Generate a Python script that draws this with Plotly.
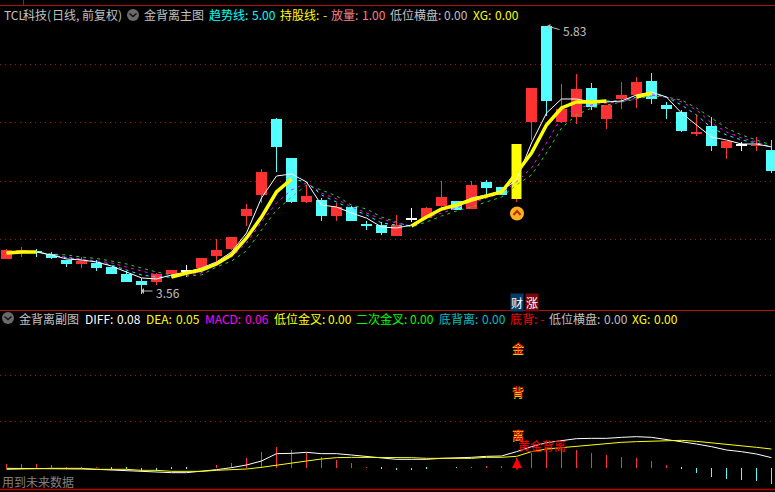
import plotly.graph_objects as go

W, H = 775, 492
RED, CYAN = "#ff3232", "#54ffff"
N = 52
x = list(range(N))
DOJI = (12, 27, 49)

# Daily prices
opens = [3.792,3.844,3.862,3.836,3.783,3.748,3.757,3.722,3.660,3.599,3.590,3.660,3.678,3.713,3.818,3.879,4.168,4.352,5.017,4.676,4.291,4.308,4.168,4.247,4.098,4.089,3.993,4.133,4.150,4.256,4.299,4.229,4.466,4.422,4.317,4.990,5.830,4.990,5.034,5.288,5.017,5.192,5.227,5.349,5.139,5.078,4.886,4.956,4.763,4.789,4.781,4.746]
closes= [3.871,3.871,3.844,3.801,3.748,3.774,3.713,3.660,3.590,3.564,3.660,3.695,3.687,3.801,3.871,3.984,4.229,4.553,4.772,4.291,4.343,4.168,4.247,4.124,4.080,4.019,4.089,4.142,4.238,4.334,4.220,4.439,4.413,4.352,4.798,5.288,5.174,5.104,5.279,5.122,5.139,5.227,5.341,5.192,5.104,4.912,4.903,4.781,4.824,4.798,4.789,4.562]
highs = [3.879,3.897,3.879,3.853,3.783,3.809,3.783,3.722,3.687,3.626,3.669,3.695,3.739,3.801,3.967,3.984,4.273,4.579,5.026,4.676,4.439,4.326,4.282,4.256,4.124,4.116,4.177,4.238,4.247,4.474,4.299,4.474,4.483,4.422,4.798,5.288,5.830,5.323,5.410,5.332,5.139,5.341,5.384,5.419,5.166,5.096,5.052,5.034,4.824,4.816,4.859,4.833]
lows  = [3.792,3.809,3.809,3.792,3.722,3.713,3.687,3.660,3.590,3.564,3.560,3.626,3.634,3.669,3.766,3.871,4.081,4.282,4.553,4.282,4.282,4.124,4.124,4.124,4.046,4.002,3.993,4.116,4.150,4.247,4.220,4.229,4.360,4.352,4.291,4.833,5.043,4.982,4.973,5.096,4.929,5.104,5.113,5.148,5.017,4.903,4.868,4.737,4.667,4.737,4.737,4.544]
spark_top, spark_bottom = 4.798, 4.317   # highlighted signal day (index 34)
SPARK = 34

# Trend line, fast line and the two slower averages
trend = [3.844,3.853,3.853,3.827,3.801,3.783,3.766,3.739,3.695,3.652,3.634,3.634,3.669,3.695,3.748,3.827,3.976,4.159,4.378,4.492,4.466,4.352,4.291,4.229,4.177,4.107,4.089,4.080,4.159,4.229,4.264,4.308,4.343,4.378,4.544,4.719,4.964,5.113,5.166,5.166,5.174,5.174,5.209,5.244,5.209,5.139,5.052,4.938,4.877,4.833,4.807,4.772]
fast  = [3.844,3.853,3.853,3.827,3.792,3.783,3.766,3.730,3.678,3.626,3.617,3.652,3.678,3.713,3.766,3.853,4.019,4.326,4.518,4.536,4.466,4.264,4.247,4.194,4.150,4.072,4.063,4.089,4.168,4.238,4.264,4.326,4.352,4.387,4.483,4.807,5.069,5.192,5.192,5.166,5.166,5.174,5.227,5.253,5.209,5.069,4.964,4.859,4.833,4.798,4.798,4.772]
slow1 = [3.853,3.853,3.853,3.827,3.809,3.796,3.774,3.757,3.722,3.687,3.652,3.634,3.652,3.669,3.757,3.809,3.932,4.116,4.282,4.396,4.457,4.369,4.317,4.247,4.194,4.142,4.107,4.080,4.150,4.194,4.238,4.282,4.326,4.369,4.466,4.588,4.807,5.034,5.113,5.139,5.157,5.166,5.200,5.227,5.209,5.166,5.096,4.982,4.903,4.851,4.816,4.772]
slow2 = [3.853,3.853,3.853,3.836,3.827,3.809,3.796,3.774,3.748,3.713,3.678,3.652,3.643,3.652,3.722,3.774,3.862,4.046,4.220,4.334,4.439,4.396,4.343,4.264,4.229,4.159,4.116,4.072,4.116,4.168,4.212,4.247,4.291,4.334,4.439,4.527,4.719,4.938,5.052,5.113,5.139,5.166,5.192,5.218,5.209,5.183,5.113,5.026,4.938,4.877,4.833,4.789]
trend_up = [(0,2),(11,19),(27,40),(42,43)]
trend_down = [(2,11),(19,27),(40,42),(43,51)]

# MACD panel
diff = [-.004,-.004,-.006,-.008,-.008,-.008,-.010,-.014,-.020,-.026,-.028,-.030,-.030,-.022,-.012,0,.016,.040,.084,.086,.092,.084,.084,.076,.066,.056,.050,.050,.050,.056,.058,.062,.068,.070,.096,.126,.150,.164,.174,.176,.176,.182,.186,.182,.170,.156,.142,.126,.106,.096,.082,.060]
dea  = [-.010,-.010,-.006,-.004,-.004,-.004,-.010,-.010,-.010,-.016,-.016,-.022,-.022,-.022,-.016,-.014,-.008,.002,.016,.026,.040,.052,.060,.062,.062,.062,.060,.060,.056,.056,.056,.056,.062,.062,.068,.096,.112,.120,.126,.136,.146,.152,.156,.160,.164,.164,.158,.150,.140,.132,.122,.112]
macd = [.022,.022,.022,.016,.004,.004,.002,-.010,-.010,-.018,-.018,-.010,-.010,0,.016,.028,.056,.094,.124,.106,.090,.062,.046,.028,.004,-.008,-.016,-.014,-.008,0,-.002,.004,.010,.010,.060,.086,.106,.120,.106,.088,.076,.064,.058,.040,.016,-.008,-.032,-.056,-.068,-.074,-.080,-.098]

price_grid = [5.494, 4.982, 4.470, 3.963]
macd_grid = [0.554, 0.278]

# Header texts: (left pixel, text, colour)
main_header = [(3,"TCL","#c0c0c0"),(22,"科技","#c0c0c0"),(46,"(","#c0c0c0"),(51,"日线","#c0c0c0"),(75,",","#c0c0c0"),(81,"前复权","#c0c0c0"),(117,")","#c0c0c0"),
               (143,"金背离主图","#c0c0c0"),(208,"趋势线:","#00ffff"),(251,"5.00","#00ffff"),
               (279,"持股线:","#ffff00"),(322,"-","#ffff00"),(330,"放量:","#ff8080"),(361,"1.00","#ff8080"),
               (389,"低位横盘:","#c0c0c0"),(443,"0.00","#c0c0c0"),(472,"XG:","#ffff00"),(494,"0.00","#ffff00")]
sub_header = [(18,"金背离副图","#c0c0c0"),(84,"DIFF:","#ffffff"),(116,"0.08","#ffffff"),(145,"DEA:","#ffff00"),(175,"0.05","#ffff00"),
              (204,"MACD:","#ff00ff"),(244,"0.06","#ff00ff"),(273,"低位金叉:","#ffff00"),(327,"0.00","#ffff00"),
              (355,"二次金叉:","#00ff00"),(409,"0.00","#00ff00"),(438,"底背离:","#00c0c0"),(481,"0.00","#00c0c0"),
              (509,"底背:","#ff0000"),(539,"-","#ff0000"),(548,"低位横盘:","#c0c0c0"),(603,"0.00","#c0c0c0"),
              (631,"XG:","#ffff00"),(653,"0.00","#ffff00")]

FONT = "Noto Sans CJK SC"
XR = [-6.5/15, (W-6.5)/15]
fig = go.Figure()
PX = 1/15

def candle_color(i):
    if i in DOJI:
        return "#ffffff"
    return RED if closes[i] > opens[i] else CYAN

colors = [candle_color(i) for i in x]
fig.add_bar(x=x, base=lows, y=[h-l for h, l in zip(highs, lows)], width=PX, marker=dict(color=colors, line_width=0), xaxis="x", yaxis="y")
fig.add_bar(x=x, base=[min(o, c) for o, c in zip(opens, closes)], y=[abs(o-c) for o, c in zip(opens, closes)], width=11*PX,
            marker=dict(color=colors, line_width=0), xaxis="x", yaxis="y")

def seg(vals, a, b):
    return x[a:b+1], vals[a:b+1]

fig.add_scatter(x=x, y=slow2, mode="lines", line=dict(color="#33cc33", width=1, dash="3px,4px"), xaxis="x", yaxis="y")
fig.add_scatter(x=x, y=slow1, mode="lines", line=dict(color="#ff00ff", width=1, dash="3px,4px"), xaxis="x", yaxis="y")
for a, b in trend_down:
    xs, ys = seg(trend, a, b)
    fig.add_scatter(x=xs, y=ys, mode="lines", line=dict(color="#00ffff", width=1, dash="3px,4px"), xaxis="x", yaxis="y")
fig.add_scatter(x=x, y=fast, mode="lines", line=dict(color="#ffffff", width=1), xaxis="x", yaxis="y")
fig.add_bar(x=[SPARK], base=[spark_bottom], y=[spark_top-spark_bottom], width=9*PX, marker=dict(color="#ffff00", line_width=0), xaxis="x", yaxis="y")
for a, b in trend_up:
    xs, ys = seg(trend, a, b)
    fig.add_scatter(x=xs, y=ys, mode="lines", line=dict(color="#ffff00", width=3.5), xaxis="x", yaxis="y")

# MACD panel
fig.add_bar(x=x, y=macd, width=PX, marker=dict(color=[RED if v >= 0 else CYAN for v in macd], line_width=0), xaxis="x2", yaxis="y2")
fig.add_scatter(x=x, y=diff, mode="lines", line=dict(color="#ffffff", width=1), xaxis="x2", yaxis="y2")
fig.add_scatter(x=x, y=dea, mode="lines", line=dict(color="#ffff00", width=1), xaxis="x2", yaxis="y2")

def xp(px): return px / W
def yp(py): return 1 - py / H

ann = []
def text(px, py, t, col, size=12, anchor="left", **kw):
    ann.append(dict(x=xp(px), y=yp(py), xref="paper", yref="paper", text=t, showarrow=False, xanchor=anchor, yanchor="middle",
                    font=dict(family=FONT, size=size, color=col), borderpad=0, **kw))

for px, t, c in main_header:
    text(px, 14.5, t, c)
for px, t, c in sub_header:
    text(px, 318, t, c)
text(1, 481, "用到未来数据", "#808080")
text(562, 31, "5.83", "#c0c0c0")
text(155, 292, "3.56", "#c0c0c0")
for py, ch in [(348, "金"), (392, "背"), (435, "离")]:
    text(511, py, ch, "#ffff00")
    text(511, py-1, ch, "#ff0000")
text(517, 445, "黄金背离", "#ff0000")
text(510, 302, "财", "#ffffff", bgcolor="#0a3a6a")
text(525, 302, "涨", "#ffffff", bgcolor="#7a0808")
ann.append(dict(x=xp(547), y=yp(26), xref="paper", yref="paper", ax=14, ay=4, axref="pixel", ayref="pixel", text="",
                showarrow=True, arrowcolor="#c0c0c0", arrowwidth=1, arrowhead=1, arrowsize=1))
ann.append(dict(x=xp(141), y=yp(291), xref="paper", yref="paper", ax=13, ay=0, axref="pixel", ayref="pixel", text="",
                showarrow=True, arrowcolor="#c0c0c0", arrowwidth=1, arrowhead=1, arrowsize=1))
ann.append(dict(x=xp(517), y=yp(458), xref="paper", yref="paper", ax=0, ay=13, axref="pixel", ayref="pixel", text="",
                showarrow=True, arrowcolor="#ff0000", arrowwidth=2, arrowhead=2, arrowsize=1))

shapes = []
def hline(py, col, w=1, x0=0, x1=W):
    shapes.append(dict(type="line", xref="paper", yref="paper", x0=xp(x0), x1=xp(x1), y0=yp(py), y1=yp(py), line=dict(color=col, width=w)))
hline(5.5, "#b01010")
hline(310.5, "#b01010")
hline(489.5, "#c00000", 1.5)
shapes.append(dict(type="line", xref="paper", yref="paper", x0=xp(23.5), x1=xp(23.5), y0=yp(0), y1=yp(5), line=dict(color="#b01010", width=1)))
shapes.append(dict(type="line", xref="paper", yref="paper", x0=xp(141.5), x1=xp(141.5), y0=yp(285), y1=yp(294), line=dict(color="#c0c0c0", width=1)))

def circle(cx, cy, r, col):
    shapes.append(dict(type="circle", xref="paper", yref="paper", x0=xp(cx-r), x1=xp(cx+r), y0=yp(cy-r), y1=yp(cy+r), fillcolor=col, line_width=0))
def chevron(cx, cy, col, d, w=1.5):
    a, b = xp(cx-3.5), xp(cx+3.5)
    shapes.append(dict(type="path", xref="paper", yref="paper",
                       path=f"M {a},{yp(cy)} L {xp(cx)},{yp(cy+d)} L {b},{yp(cy)}", line=dict(color=col, width=w)))
circle(133, 15, 6, "#6a6a6a"); chevron(133, 13.5, "#111111", 3)
circle(8, 318, 6, "#6a6a6a"); chevron(8, 316.5, "#111111", 3)
circle(517, 213.5, 7, "#ffb020"); chevron(517, 215, "#b03000", -4, 2)

fig.update_layout(
    width=W, height=H, margin=dict(l=0, r=0, t=0, b=0), paper_bgcolor="#000000", plot_bgcolor="#000000",
    showlegend=False, barmode="overlay", bargap=0, annotations=ann, shapes=shapes,
    xaxis=dict(domain=[0, 1], range=XR, visible=False, fixedrange=True),
    xaxis2=dict(domain=[0, 1], range=XR, visible=False, fixedrange=True, anchor="y2"),
    yaxis=dict(domain=[1-308/H, 1], range=[3.363, 6.058], tickvals=price_grid, showticklabels=False, showgrid=True,
               gridcolor="#a01818", griddash="1px,4px", gridwidth=1, zeroline=False, showline=False, ticks=""),
    yaxis2=dict(domain=[1-489/H, 1-311/H], range=[-0.128, 0.940], tickvals=macd_grid, showticklabels=False, showgrid=True,
                gridcolor="#a01818", griddash="1px,4px", gridwidth=1, zeroline=False, showline=False, ticks="", anchor="x2"),
)
fig.write_html("out.html", config={"displayModeBar": False},
               post_script="document.body.style.margin='0';document.body.style.background='#000';document.body.style.overflow='hidden';")
